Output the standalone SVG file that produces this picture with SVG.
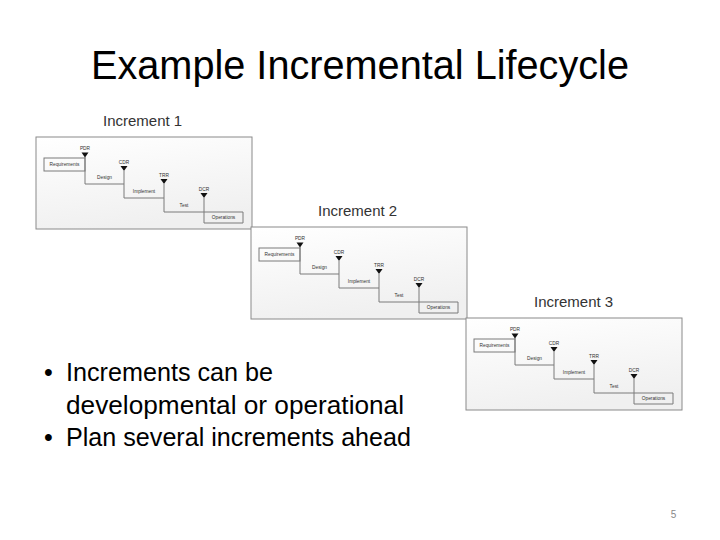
<svg xmlns="http://www.w3.org/2000/svg" width="720" height="540" viewBox="0 0 720 540">
<defs>
<linearGradient id="fr" x1="0" y1="0" x2="0.3" y2="1">
<stop offset="0" stop-color="#ffffff"/>
<stop offset="1" stop-color="#f0f0f0"/>
</linearGradient>
<style>
.title{font-family:"Liberation Sans",Arial,sans-serif;font-size:40px;fill:#000}
.bul{font-family:"Liberation Sans",Arial,sans-serif;font-size:25px;fill:#000}
.inc{font-family:"Liberation Sans",Arial,sans-serif;font-size:15px;fill:#333}
.frame{fill:url(#fr);stroke:#8a8a8a;stroke-width:1}
.bar{fill:none;stroke:#7a7a7a;stroke-width:1}
.tri{fill:#111}
.t{font-family:"Liberation Sans",Arial,sans-serif;font-size:4.8px;fill:#333;text-anchor:middle}
.pg{font-family:"Liberation Sans",Arial,sans-serif;font-size:10px;fill:#888;text-anchor:middle}
</style>
</defs>
<rect width="720" height="540" fill="#fff"/>
<text class="title" x="360" y="79" text-anchor="middle" textLength="538" lengthAdjust="spacingAndGlyphs">Example Incremental Lifecycle</text>

<g id="increment1" transform="translate(36,137)">
<text class="inc" x="67" y="-11">Increment 1</text>
<rect class="frame" x="0" y="0" width="216" height="92"/>
<rect class="bar" x="8" y="21" width="41" height="13"/>
<path class="bar" d="M49 20V47H88M88 34V61H128M128 47V75H168M168 61V86H207V75H168"/>
<path class="tri" d="M45.5 15.5h7l-3.5 5z"/><path class="tri" d="M84.5 29h7l-3.5 5z"/><path class="tri" d="M124.5 42h7l-3.5 5z"/><path class="tri" d="M164.5 56h7l-3.5 5z"/>
<text class="t" x="49" y="13">PDR</text><text class="t" x="88" y="26.5">CDR</text><text class="t" x="128" y="39.5">TRR</text><text class="t" x="168" y="53.5">DCR</text>
<text class="t" x="28.5" y="29.2">Requirements</text><text class="t" x="68.5" y="42.2">Design</text><text class="t" x="108" y="55.7">Implement</text><text class="t" x="148" y="69.7">Test</text><text class="t" x="187.5" y="82.2">Operations</text>
</g>

<g id="increment2" transform="translate(251,227)">
<text class="inc" x="67" y="-11">Increment 2</text>
<rect class="frame" x="0" y="0" width="216" height="92"/>
<rect class="bar" x="8" y="21" width="41" height="13"/>
<path class="bar" d="M49 20V47H88M88 34V61H128M128 47V75H168M168 61V86H207V75H168"/>
<path class="tri" d="M45.5 15.5h7l-3.5 5z"/><path class="tri" d="M84.5 29h7l-3.5 5z"/><path class="tri" d="M124.5 42h7l-3.5 5z"/><path class="tri" d="M164.5 56h7l-3.5 5z"/>
<text class="t" x="49" y="13">PDR</text><text class="t" x="88" y="26.5">CDR</text><text class="t" x="128" y="39.5">TRR</text><text class="t" x="168" y="53.5">DCR</text>
<text class="t" x="28.5" y="29.2">Requirements</text><text class="t" x="68.5" y="42.2">Design</text><text class="t" x="108" y="55.7">Implement</text><text class="t" x="148" y="69.7">Test</text><text class="t" x="187.5" y="82.2">Operations</text>
</g>

<g id="increment3" transform="translate(466,318)">
<text class="inc" x="68" y="-11">Increment 3</text>
<rect class="frame" x="0" y="0" width="216" height="92"/>
<rect class="bar" x="8" y="21" width="41" height="13"/>
<path class="bar" d="M49 20V47H88M88 34V61H128M128 47V75H168M168 61V86H207V75H168"/>
<path class="tri" d="M45.5 15.5h7l-3.5 5z"/><path class="tri" d="M84.5 29h7l-3.5 5z"/><path class="tri" d="M124.5 42h7l-3.5 5z"/><path class="tri" d="M164.5 56h7l-3.5 5z"/>
<text class="t" x="49" y="13">PDR</text><text class="t" x="88" y="26.5">CDR</text><text class="t" x="128" y="39.5">TRR</text><text class="t" x="168" y="53.5">DCR</text>
<text class="t" x="28.5" y="29.2">Requirements</text><text class="t" x="68.5" y="42.2">Design</text><text class="t" x="108" y="55.7">Implement</text><text class="t" x="148" y="69.7">Test</text><text class="t" x="187.5" y="82.2">Operations</text>
</g>

<g id="bullets">
<text class="bul" x="44" y="381">•</text>
<text class="bul" x="66" y="381" textLength="207" lengthAdjust="spacingAndGlyphs">Increments can be</text>
<text class="bul" x="66" y="414" textLength="338" lengthAdjust="spacingAndGlyphs">developmental or operational</text>
<text class="bul" x="44" y="446">•</text>
<text class="bul" x="66" y="446" textLength="345" lengthAdjust="spacingAndGlyphs">Plan several increments ahead</text>
</g>
<text class="pg" x="673.5" y="518">5</text>
</svg>
